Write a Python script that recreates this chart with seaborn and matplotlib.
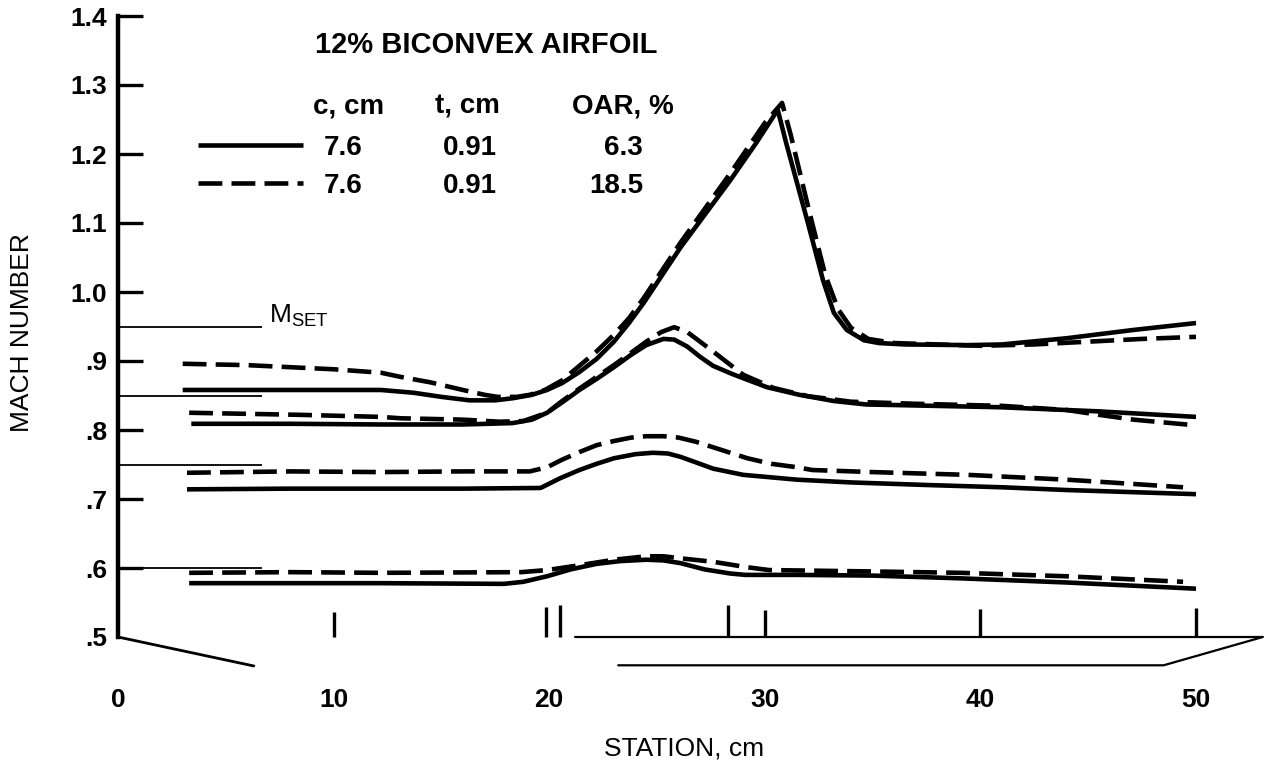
import numpy as np
import pandas as pd
import matplotlib
matplotlib.use("Agg")
import matplotlib.pyplot as plt
import seaborn as sns

# ---------------- data ----------------
mset_levels = [0.95, 0.85, 0.75, 0.60]
mset_line_end = 6.7

# OAR 6.3 % (solid) and OAR 18.5 % (dashed) for each M_SET level
s95_lo = [3.0, 8.0, 12.2, 13.7, 15.0, 16.3, 17.5, 18.3, 19.2, 19.9, 20.6, 21.4, 22.2, 23.0, 23.7, 24.4, 26.1, 28.4, 29.6, 30.6,
          31.0, 32.0, 32.7, 33.2, 33.8, 34.6, 35.3, 36.5, 39.4, 41.0, 44.0, 47.1, 50.0]
m95_lo = [0.858, 0.858, 0.858, 0.854, 0.848, 0.843, 0.843, 0.846, 0.851, 0.858, 0.868, 0.884, 0.903, 0.928, 0.955, 0.985, 1.065, 1.162, 1.216, 1.264,
          1.215, 1.100, 1.017, 0.970, 0.945, 0.930, 0.926, 0.924, 0.923, 0.924, 0.933, 0.945, 0.955]
s95_hi = [3.0, 6.0, 10.0, 12.2, 13.1, 14.5, 16.0, 17.0, 17.6, 18.5, 19.1, 19.8, 20.6, 21.4, 22.2, 23.0, 23.7, 24.4, 26.1, 28.4,
          30.0, 30.8, 31.2, 32.1, 32.8, 33.4, 34.0, 34.8, 36.0, 38.0, 40.0, 42.5, 45.0, 47.5, 50.0]
m95_hi = [0.896, 0.894, 0.888, 0.883, 0.877, 0.869, 0.858, 0.851, 0.848, 0.848, 0.851, 0.858, 0.872, 0.893, 0.914, 0.938, 0.962, 0.992, 1.072, 1.172,
          1.245, 1.274, 1.228, 1.112, 1.025, 0.975, 0.948, 0.932, 0.926, 0.924, 0.922, 0.924, 0.928, 0.932, 0.935]

s85_lo = [3.4, 8.0, 12.2, 16.0, 18.3, 19.2, 19.9, 20.6, 21.4, 22.2, 23.0, 23.8, 24.5, 25.3, 25.8, 26.4, 27.0, 27.6, 28.5, 30.1,
          31.6, 33.2, 34.7, 36.3, 40.9, 45.5, 50.0]
m85_lo = [0.809, 0.809, 0.808, 0.808, 0.810, 0.815, 0.825, 0.840, 0.858, 0.874, 0.891, 0.909, 0.923, 0.932, 0.931, 0.921, 0.906, 0.893, 0.881, 0.862,
          0.851, 0.842, 0.837, 0.836, 0.833, 0.827, 0.819]
s85_hi = [3.3, 8.4, 12.2, 13.1, 16.0, 17.7, 18.8, 19.9, 20.6, 21.4, 22.2, 23.0, 23.8, 24.5, 25.2, 25.8, 26.4, 27.0, 27.8, 29.0,
          30.4, 32.0, 34.0, 37.0, 41.0, 44.0, 45.5, 47.1, 49.9]
m85_hi = [0.825, 0.822, 0.819, 0.817, 0.815, 0.812, 0.813, 0.825, 0.842, 0.860, 0.877, 0.894, 0.912, 0.928, 0.942, 0.949, 0.942, 0.928, 0.909, 0.880,
          0.861, 0.849, 0.841, 0.838, 0.835, 0.829, 0.822, 0.815, 0.807]

s75_lo = [3.2, 8.0, 12.2, 16.0, 19.6, 20.5, 21.4, 22.2, 23.0, 24.0, 24.8, 25.5, 26.1, 26.9, 27.6, 29.0, 31.5, 34.0, 37.8, 41.0,
          44.0, 47.0, 50.0]
m75_lo = [0.714, 0.715, 0.715, 0.715, 0.716, 0.730, 0.742, 0.751, 0.759, 0.765, 0.767, 0.766, 0.761, 0.752, 0.744, 0.735, 0.728, 0.724, 0.720, 0.717,
          0.713, 0.710, 0.707]
s75_hi = [3.2, 8.0, 12.2, 16.0, 19.1, 19.9, 20.6, 21.4, 22.2, 23.0, 23.8, 24.5, 25.3, 26.0, 26.8, 28.0, 29.2, 30.3, 31.5, 32.2,
          35.0, 39.4, 44.0, 47.0, 49.4]
m75_hi = [0.738, 0.740, 0.739, 0.740, 0.740, 0.746, 0.757, 0.768, 0.778, 0.784, 0.789, 0.791, 0.791, 0.789, 0.783, 0.771, 0.759, 0.751, 0.746, 0.742,
          0.739, 0.735, 0.728, 0.722, 0.717]

s60_lo = [3.3, 8.0, 12.2, 17.9, 18.8, 19.9, 21.0, 22.2, 23.3, 24.5, 25.3, 26.1, 27.2, 28.4, 29.1, 31.5, 35.0, 39.1, 44.0, 50.0]
m60_lo = [0.578, 0.578, 0.578, 0.577, 0.580, 0.588, 0.598, 0.606, 0.610, 0.612, 0.611, 0.607, 0.598, 0.592, 0.590, 0.590, 0.589, 0.585, 0.579, 0.570]
s60_hi = [3.3, 8.0, 12.2, 18.7, 19.9, 21.4, 23.0, 24.5, 25.3, 26.1, 27.6, 29.2, 30.2, 35.0, 39.1, 44.0, 49.4]
m60_hi = [0.593, 0.594, 0.593, 0.594, 0.597, 0.604, 0.612, 0.617, 0.617, 0.614, 0.609, 0.601, 0.597, 0.595, 0.593, 0.588, 0.580]

# test-section sketch and station marks
station_marks = [10.0, 19.85, 20.5, 28.3, 30.0, 40.0, 50.0]
station_mark_top = [0.536, 0.543, 0.546, 0.546, 0.539, 0.541, 0.542]
wall_left_x, wall_left_y = [0.0, 6.3], [0.5, 0.458]
wall_upper_x, wall_upper_y = [21.2, 53.1, 48.5, 23.2], [0.5, 0.5, 0.459, 0.459]

x_ticks = [0, 10, 20, 30, 40, 50]
y_ticks = [0.5, 0.6, 0.7, 0.8, 0.9, 1.0, 1.1, 1.2, 1.3, 1.4]
y_tick_labels = [".5", ".6", ".7", ".8", ".9", "1.0", "1.1", "1.2", "1.3", "1.4"]

legend_c = ["7.6", "7.6"]
legend_t = ["0.91", "0.91"]
legend_oar = ["6.3", "18.5"]

# ---------------- build long table ----------------
curves = [
    (0.95, "6.3", s95_lo, m95_lo), (0.95, "18.5", s95_hi, m95_hi),
    (0.85, "6.3", s85_lo, m85_lo), (0.85, "18.5", s85_hi, m85_hi),
    (0.75, "6.3", s75_lo, m75_lo), (0.75, "18.5", s75_hi, m75_hi),
    (0.60, "6.3", s60_lo, m60_lo), (0.60, "18.5", s60_hi, m60_hi),
]
rows = []
for i, (ms, oar, st, m) in enumerate(curves):
    for a, b in zip(st, m):
        rows.append({"station": a, "mach": b, "oar": oar, "curve": i})
df = pd.DataFrame(rows)

# ---------------- figure ----------------
sns.set_theme(style="white")
plt.rcParams["font.family"] = ["Liberation Sans", "DejaVu Sans"]
plt.rcParams.update({"text.color": "black", "axes.labelcolor": "black",
                     "xtick.color": "black", "ytick.color": "black"})

W, H = 1265, 760
fig = plt.figure(figsize=(W / 100, H / 100), dpi=100)
x0_px, y0_px, ytop_px = 118, 637, 16
px_per_cm = 21.56
xmax = 52.0
ax = fig.add_axes([x0_px / W, (H - y0_px) / H, xmax * px_per_cm / W, (y0_px - ytop_px) / H])
ax.set_facecolor("white")

sns.lineplot(data=df, x="station", y="mach", units="curve", style="oar",
             dashes={"6.3": "", "18.5": (5.2, 2.0)}, estimator=None, sort=False,
             color="black", linewidth=3.3, legend=False, ax=ax)
for ln in ax.lines:
    ln.set_solid_joinstyle("round")
    ln.set_solid_capstyle("butt")

# M_SET reference lines
ax.hlines(mset_levels, 0, mset_line_end, color="black", lw=1.3)
ax.text(7.0, 0.955, r"$\mathregular{M_{SET}}$", fontsize=19, ha="left", va="baseline", color="black")

# station marks and tunnel sketch
ax.vlines(station_marks, 0.5, station_mark_top, color="black", lw=2.4, clip_on=False)
ax.plot(wall_left_x, wall_left_y, color="black", lw=2.0, clip_on=False)
ax.plot(wall_upper_x, wall_upper_y, color="black", lw=1.6, clip_on=False)

# axes styling
ax.set_xlim(0, xmax)
ax.set_ylim(0.5, 1.4)
for s in ["top", "right", "bottom"]:
    ax.spines[s].set_visible(False)
ax.spines["left"].set_linewidth(3.2)
ax.spines["left"].set_color("black")
ax.set_xticks(x_ticks)
ax.set_xticklabels([str(v) for v in x_ticks], fontsize=19, fontweight="bold", color="black")
ax.set_yticks(y_ticks)
ax.set_yticklabels(y_tick_labels, fontsize=19, fontweight="bold", color="black")
ax.tick_params(axis="x", length=0, pad=37)
ax.tick_params(axis="y", direction="in", length=18, width=2.4, color="black", pad=8, left=True)
ax.yaxis.get_major_ticks()[0].tick1line.set_visible(False)

ax.set_xlabel("STATION, cm", fontsize=19, color="black")
ax.set_ylabel("MACH NUMBER", fontsize=19, color="black")
ax.xaxis.set_label_coords(0.505, -0.16)
ax.yaxis.set_label_coords(-0.075, 0.49)

# title and table
ax.text(9.14, 1.346, "12% BICONVEX AIRFOIL", fontsize=21, ha="left", va="baseline", fontweight="bold")
ax.text(9.04, 1.259, "c, cm", fontsize=20, ha="left", va="baseline", fontweight="bold")
ax.text(14.70, 1.259, "t, cm", fontsize=20, ha="left", va="baseline", fontweight="bold")
ax.text(21.06, 1.259, "OAR, %", fontsize=20, ha="left", va="baseline", fontweight="bold")

h_solid = [l for l in ax.lines if l.get_linestyle() == "-"][0]
h_dash = [l for l in ax.lines if l.get_linestyle() == "--"][0]
fs_px = 20 * 100 / 72
leg = ax.legend([h_solid, h_dash], legend_c, loc="center left",
                bbox_to_anchor=(3.71, 1.1812), bbox_transform=ax.transData,
                frameon=False, borderpad=0, borderaxespad=0,
                handlelength=105 / fs_px, handletextpad=21 / fs_px, labelspacing=0.44,
                prop={"size": 20, "weight": "bold"}, labelcolor="black")
row_y = [1.199, 1.143]
for yv, tv, ov in zip(row_y, legend_t, legend_oar):
    ax.text(15.07, yv, tv, fontsize=20, ha="left", va="baseline", fontweight="bold")
    ax.text(24.35, yv, ov, fontsize=20, ha="right", va="baseline", fontweight="bold")

fig.savefig("out.png", dpi=100, facecolor="white")
